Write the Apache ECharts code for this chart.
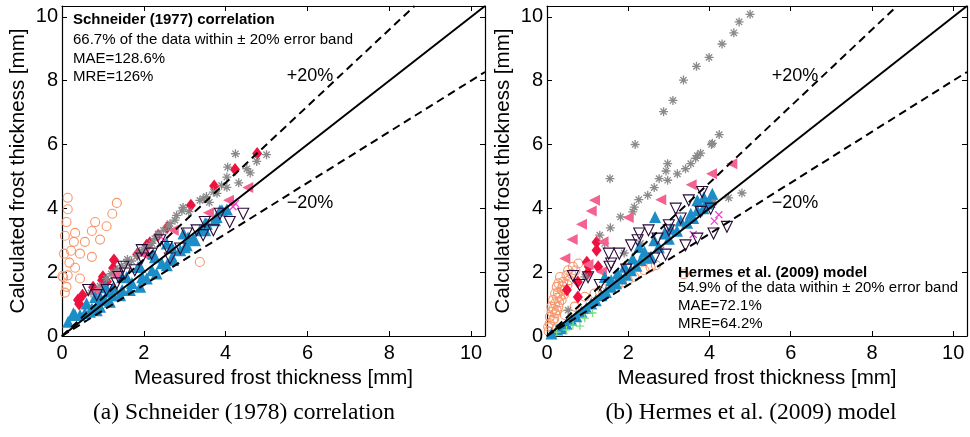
<!DOCTYPE html>
<html><head><meta charset="utf-8">
<script src="https://cdn.jsdelivr.net/npm/echarts@6/dist/echarts.min.js"></script>
<style>html,body{margin:0;padding:0;background:#fff}#c{width:970px;height:437px}</style>
</head><body><div id="c"></div>
<script>
// ---------- data: panel (a) Schneider ----------
const aCircle = [[0.14,4.33],[0.14,3.97],[0.11,3.57],[0.07,3.14],[0.32,3.23],[0.29,2.95],[0.22,2.67],[0.05,2.58],[0.44,2.58],[0.18,2.30],[0.32,2.14],[0.01,1.88],[0.14,1.90],[0.44,1.80],[0.11,1.54],[0.07,1.36],[0.73,2.48],[0.56,2.95],[0.73,3.29],[0.81,3.57],[0.93,3.02],[1.09,3.44],[1.23,3.83],[1.34,4.17],[3.37,2.32],[0.03,1.84]];
const aDiamond = [[0.39,1.13],[0.5,1.28],[0.76,1.53],[0.98,1.75],[1.0,1.86],[1.25,2.13],[1.27,2.38],[1.84,2.56],[2.07,2.84],[2.15,2.92],[2.35,3.16],[2.57,3.40],[3.15,4.10],[3.72,4.70],[4.23,5.22],[4.77,5.72],[1.1,1.7],[0.42,1.0]];
const aStar = [[0.71,1.35],[0.93,1.56],[1.09,1.80],[1.34,2.06],[1.58,2.27],[1.83,2.50],[2.07,2.79],[2.27,3.05],[2.48,3.31],[2.64,3.52],[2.76,3.63],[2.80,3.78],[2.93,3.92],[2.96,4.03],[3.37,4.25],[3.53,4.37],[3.60,4.19],[3.70,4.51],[3.79,4.47],[3.90,4.72],[4.03,4.98],[4.03,4.66],[4.05,5.29],[4.32,4.80],[4.52,5.24],[4.60,5.11],[4.76,5.47],[4.24,5.71],[5.0,5.68],[1.45,2.2],[2.2,2.9],[1.2,1.95],[1.6,2.4],[1.9,2.65],[2.35,3.2],[2.6,3.45],[3.1,3.9],[3.45,4.3],[2.0,2.7],[1.7,2.35]];
const aLeftTri = [[1.3,1.9],[2.0,2.55],[2.72,3.31],[3.58,3.86],[4.07,4.25],[4.54,4.65],[0.8,1.4]];
const aCross = [[4.24,4.15],[4.18,4.05],[2.5,3.0]];
const aUpTri = [[0.15,0.45],[0.44,0.66],[0.68,0.76],[0.93,0.92],[1.17,1.07],[1.42,1.28],[1.66,1.44],[1.91,1.54],[2.07,1.80],[2.31,1.96],[2.56,2.22],[2.72,2.38],[2.89,2.69],[3.05,2.84],[3.21,3.05],[3.37,3.31],[3.54,3.52],[3.78,3.73],[4.03,3.96],[3.86,3.94],[2.97,3.21],[2.56,2.90],[2.23,2.58],[1.91,2.17],[1.58,1.85],[1.26,1.54],[0.93,1.23],[0.60,1.02],[0.28,0.71],[1.13,1.39],[0.85,0.81],[0.32,0.66],[0.56,0.72],[0.73,0.86],[0.88,1.03],[1.05,1.13],[1.25,1.28],[1.47,1.44],[1.71,1.66],[1.96,1.84],[2.2,2.06],[2.44,2.28],[2.69,2.47],[3.0,2.78],[3.25,3.0],[3.5,3.31],[3.74,3.63],[3.91,3.94],[1.05,1.53],[1.47,1.84],[1.86,2.16],[2.27,2.47],[2.69,2.78],[3.08,3.09],[3.5,3.53],[0.81,1.22]];
const aDownTri = [[0.64,1.44],[0.85,1.28],[1.09,1.44],[1.34,1.65],[1.54,1.96],[1.78,2.06],[1.95,2.43],[2.19,2.58],[2.40,3.00],[2.64,2.43],[2.89,2.74],[3.05,3.21],[3.29,3.31],[3.45,3.16],[3.49,3.57],[3.70,3.31],[4.10,3.57],[4.43,3.83],[3.86,3.83],[1.50,2.17],[2.56,2.79],[1.95,2.69],[1.38,1.85]];

// ---------- data: panel (b) Hermes ----------
const bCircle = [[0.03,0.29],[0.07,0.6],[0.11,0.92],[0.15,1.13],[0.2,1.33],[0.24,1.54],[0.28,1.65],[0.32,1.85],[0.4,1.7],[0.48,1.9],[0.52,2.06],[0.64,2.17],[0.77,2.27],[0.44,1.44],[0.36,1.13],[0.28,0.92],[0.2,0.71],[0.44,0.66],[0.68,0.92],[0.93,1.23],[1.17,1.33],[1.42,1.49],[1.74,1.6],[1.99,1.75],[2.15,1.85],[2.4,2.06],[2.68,2.22],[3.37,1.94],[0.07,0.4],[0.15,0.5],[0.24,0.81],[0.32,1.23],[0.36,1.44],[0.2,1.02],[0.12,0.75],[0.27,1.35],[0.5,1.6],[0.6,1.95],[0.04,0.15],[0.1,0.3],[0.18,0.55],[0.3,1.05],[0.42,1.3],[0.55,1.75],[0.7,2.05],[0.38,1.55],[0.25,1.2],[0.16,0.85],[1.3,1.4],[1.58,1.55],[1.85,1.68],[2.55,2.15]];
const bDiamond = [[1.22,2.94],[1.22,2.69],[0.98,2.31],[1.0,1.97],[0.76,1.69],[0.49,1.44],[0.76,1.22],[1.26,2.17],[1.03,2.17]];
const bStar = [[5.0,10.08],[4.73,9.84],[4.6,9.5],[4.31,9.15],[3.99,8.73],[3.68,8.45],[3.36,8.02],[3.1,7.38],[2.87,7.03],[2.17,6.0],[1.55,4.93],[1.3,3.16],[4.24,6.31],[4.07,6.04],[3.78,5.73],[3.66,5.57],[3.54,5.4],[3.41,5.24],[3.21,5.08],[2.97,5.4],[2.93,5.17],[2.97,4.88],[2.76,4.93],[2.64,4.65],[2.48,4.41],[2.26,4.27],[2.15,4.04],[2.11,3.89],[1.81,3.73],[1.56,3.39],[1.42,2.9],[4.8,4.48],[4.47,4.33],[4.11,4.2],[0.52,0.81],[0.93,1.85],[4.05,6.0],[3.7,5.65],[1.9,2.6],[2.3,2.9]];
const bLeftTri = [[4.55,5.4],[4.05,5.08],[3.55,4.74],[2.8,4.27],[2.0,3.71],[1.09,3.92],[1.17,4.25],[0.85,3.5],[0.62,3.02],[0.44,2.43],[1.38,2.95],[1.01,2.24],[1.34,2.01]];
const bCross = [[4.23,3.8],[4.12,3.6],[3.6,3.18],[2.8,2.69]];
const bUpTri = [[0.11,0.08],[0.36,0.24],[0.6,0.5],[0.85,0.76],[1.09,1.02],[1.34,1.28],[1.58,1.54],[1.83,1.8],[2.07,2.06],[2.11,2.43],[2.27,2.79],[2.4,2.64],[2.64,3.0],[2.66,3.73],[2.89,3.21],[3.05,3.36],[3.29,3.62],[3.54,3.83],[3.7,4.25],[3.86,4.35],[4.07,4.46],[3.94,4.15],[3.7,3.94],[1.91,2.17],[1.74,1.96],[1.58,1.75],[2.31,2.38],[2.56,2.48],[1.42,1.85],[0.25,0.2],[0.48,0.38],[0.72,0.62],[0.97,0.88],[1.2,1.12],[1.45,1.38],[1.7,1.65],[1.95,1.92],[2.2,2.2],[2.45,2.45],[2.75,2.8],[3.0,3.05],[3.2,3.3],[3.45,3.55],[3.6,3.7],[3.85,4.0],[4.0,4.2]];
const bDownTri = [[0.64,1.88],[0.8,1.6],[1.01,1.84],[1.3,1.6],[1.54,2.17],[1.52,2.58],[1.78,2.58],[1.95,2.08],[2.07,2.84],[2.27,3.21],[2.5,3.31],[2.23,3.0],[2.72,3.05],[3.0,3.47],[3.17,3.99],[3.29,3.68],[3.49,4.25],[3.82,4.51],[2.92,2.55],[2.64,2.43],[3.41,2.84],[3.7,3.05],[4.1,3.21],[4.43,3.42],[3.78,3.89],[4.03,3.99],[3.0,3.31],[1.58,2.27]];
const bPlus = [[0.24,0.12],[0.48,0.19],[0.64,0.34],[0.81,0.31],[0.93,0.56],[1.12,0.72]];

// ---------- axes / reference lines / texts ----------
const axisMax = 10.34;
const ticks = [0, 2, 4, 6, 8, 10];
const bandFactors = { upper: 1.2, lower: 0.8 };
const panelTitles = ['Schneider (1977) correlation', 'Hermes et al. (2009) model'];
const panelStats = [
  ['66.7% of the data within \u00b1 20% error band', 'MAE=128.6%', 'MRE=126%'],
  ['54.9% of the data within \u00b1 20% error band', 'MAE=72.1%', 'MRE=64.2%']
];
const captions = ['(a) Schneider (1978) correlation', '(b) Hermes et al. (2009) model'];

const SANS = '"Liberation Sans", Arial, sans-serif';
const SERIF = '"Liberation Serif", serif';

const sym = {
  star: 'path://M5,0L5,10M0,5L10,5M1.5,1.5L8.5,8.5M1.5,8.5L8.5,1.5',
  cross: 'path://M0,0L10,10M0,10L10,0',
  plus: 'path://M5,0L5,10M0,5L10,5',
  leftTri: 'path://M0,5L10,0L10,10Z',
  downTri: 'path://M0,0L10,0L5,9Z'
};

const grids = [
  { left: 62, top: 6, width: 423, height: 330 },
  { left: 547, top: 6, width: 422, height: 330 }
];

function tickFmt(v) { return ticks.indexOf(Math.round(v * 1000) / 1000) >= 0 ? String(v) : ''; }

const lineStyleAxis = { color: '#000', width: 1.2 };
const xAxes = [], yAxes = [];
grids.forEach((g, i) => {
  const common = { type: 'value', min: 0, max: axisMax, interval: 2, gridIndex: i, splitLine: { show: false } };
  xAxes.push(Object.assign({}, common, {
    position: 'bottom', name: 'Measured frost thickness [mm]', nameLocation: 'middle', nameGap: 27,
    nameTextStyle: { fontFamily: SANS, fontSize: 20.5, color: '#000' },
    axisLine: { show: true, onZero: false, lineStyle: lineStyleAxis },
    axisTick: { show: true, inside: true, length: 5, lineStyle: { color: '#000' } },
    axisLabel: { fontFamily: SANS, fontSize: 20, color: '#000', margin: 7, formatter: tickFmt }
  }));
  xAxes.push(Object.assign({}, common, {
    position: 'top',
    axisLine: { show: true, onZero: false, lineStyle: lineStyleAxis },
    axisTick: { show: true, inside: true, length: 5, lineStyle: { color: '#000' } },
    axisLabel: { show: false }
  }));
  yAxes.push(Object.assign({}, common, {
    position: 'left', name: 'Calculated frost thickness [mm]', nameLocation: 'middle', nameGap: 33,
    nameTextStyle: { fontFamily: SANS, fontSize: 20.5, color: '#000' },
    axisLine: { show: true, onZero: false, lineStyle: lineStyleAxis },
    axisTick: { show: true, inside: true, length: 5, lineStyle: { color: '#000' } },
    axisLabel: { fontFamily: SANS, fontSize: 20, color: '#000', margin: 4, formatter: tickFmt }
  }));
  yAxes.push(Object.assign({}, common, {
    position: 'right',
    axisLine: { show: true, onZero: false, lineStyle: lineStyleAxis },
    axisTick: { show: true, inside: true, length: 5, lineStyle: { color: '#000' } },
    axisLabel: { show: false }
  }));
});

function scatter(panel, data, symbol, size, fill, stroke, bw) {
  return {
    type: 'scatter', xAxisIndex: panel * 2, yAxisIndex: panel * 2, data: data,
    symbol: symbol, symbolSize: size, silent: true,
    itemStyle: { color: fill, borderColor: stroke, borderWidth: bw, opacity: 1 }
  };
}
function refLine(panel, slope, dashed) {
  const endX = slope >= 1 ? axisMax / slope : axisMax;
  return {
    type: 'line', xAxisIndex: panel * 2, yAxisIndex: panel * 2, symbol: 'none', silent: true,
    data: [[0, 0], [endX, endX * slope]], z: 5,
    lineStyle: { color: '#000', width: 2, type: dashed ? [8, 5] : 'solid' }
  };
}

const panels = [
  { circle: aCircle, diamond: aDiamond, star: aStar, leftTri: aLeftTri, cross: aCross, upTri: aUpTri, downTri: aDownTri, plus: [] },
  { circle: bCircle, diamond: bDiamond, star: bStar, leftTri: bLeftTri, cross: bCross, upTri: bUpTri, downTri: bDownTri, plus: bPlus }
];
const series = [];
panels.forEach((p, i) => {
  series.push(refLine(i, 1, false), refLine(i, bandFactors.upper, true), refLine(i, bandFactors.lower, true));
  series.push(scatter(i, p.circle, 'circle', 9, 'rgba(0,0,0,0)', '#F7966B', 1.1));
  series.push(scatter(i, p.diamond, 'diamond', [10, 13], '#EE1240', '#EE1240', 0));
  series.push(scatter(i, p.star, sym.star, 9, 'rgba(0,0,0,0)', '#8a8a8a', 1.3));
  series.push(scatter(i, p.leftTri, sym.leftTri, 11, '#F4628F', '#F4628F', 0));
  series.push(scatter(i, p.cross, sym.cross, 7, 'rgba(0,0,0,0)', '#EE3ECF', 1.2));
  series.push(scatter(i, p.upTri, 'triangle', 12, '#1C8EC7', '#1C8EC7', 0));
  series.push(scatter(i, p.downTri, sym.downTri, 11, 'rgba(0,0,0,0)', '#2B0A3A', 1.1));
  series.push(scatter(i, p.plus, sym.plus, 8, 'rgba(0,0,0,0)', '#7EDB7E', 1.3));
});

function txt(x, y, s, font, align) {
  return { type: 'text', z: 100, style: { text: s, x: x, y: y, font: font, fill: '#000', align: align || 'left', verticalAlign: 'middle' } };
}
const graphics = [
  txt(73, 20, panelTitles[0], 'bold 15px ' + SANS),
  txt(73, 40, panelStats[0][0], '15px ' + SANS),
  txt(73, 59, panelStats[0][1], '15px ' + SANS),
  txt(73, 77, panelStats[0][2], '15px ' + SANS),
  txt(678, 273, panelTitles[1], 'bold 15px ' + SANS),
  txt(678, 288, panelStats[1][0], '15px ' + SANS),
  txt(678, 306, panelStats[1][1], '15px ' + SANS),
  txt(678, 324, panelStats[1][2], '15px ' + SANS),
  txt(310, 76, '+20%', '18px ' + SANS, 'center'),
  txt(310, 203, '\u221220%', '18px ' + SANS, 'center'),
  txt(795, 76, '+20%', '18px ' + SANS, 'center'),
  txt(795, 203, '\u221220%', '18px ' + SANS, 'center'),
  txt(244, 413, captions[0], '23.5px ' + SERIF, 'center'),
  txt(751, 413, captions[1], '23.5px ' + SERIF, 'center')
];

const chart = echarts.init(document.getElementById('c'), null, { renderer: 'canvas' });
chart.setOption({
  animation: false,
  backgroundColor: '#fff',
  grid: grids.map(g => Object.assign({ containLabel: false }, g)),
  xAxis: xAxes,
  yAxis: yAxes,
  series: series,
  graphic: graphics
});
</script></body></html>
